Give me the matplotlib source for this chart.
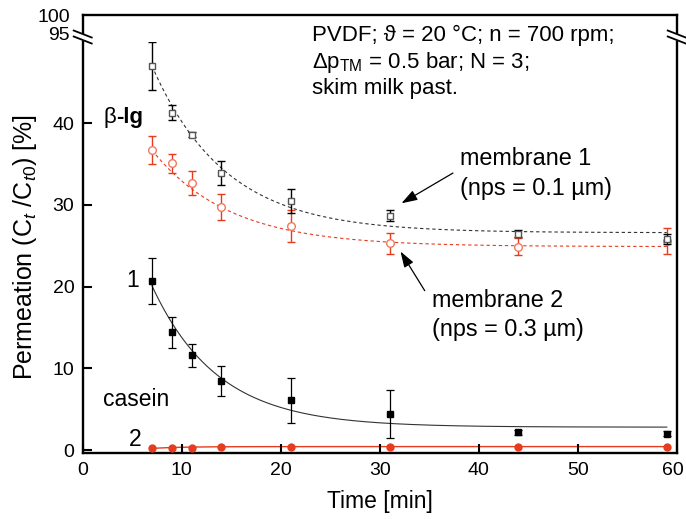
import numpy as np
import matplotlib
matplotlib.use("Agg")
import matplotlib.pyplot as plt
import matplotlib.transforms as mtransforms
from matplotlib.lines import Line2D

plt.rcParams['font.family'] = ['Liberation Sans', 'DejaVu Sans']
plt.rcParams['mathtext.fontset'] = 'custom'
plt.rcParams['mathtext.rm'] = 'Liberation Sans'
plt.rcParams['mathtext.it'] = 'Liberation Sans:italic'
plt.rcParams['mathtext.bf'] = 'Liberation Sans:bold'

# sampling times [min]
time = [7, 9, 11, 14, 21, 31, 44, 59]

# beta-lg permeation, membrane 1 and 2
blg_m1 = [47.0, 41.3, 38.6, 33.9, 30.5, 28.7, 26.5, 25.8]
blg_m1_err = [2.9, 0.95, 0.3, 1.5, 1.5, 0.7, 0.45, 0.6]
blg_m2 = [36.7, 35.1, 32.7, 29.7, 27.4, 25.3, 24.9, 25.6]
blg_m2_err = [1.75, 1.15, 1.5, 1.6, 2.0, 1.3, 1.0, 1.6]

# casein permeation, membrane 1 and 2
cas_m1 = [20.7, 14.4, 11.6, 8.45, 6.1, 4.4, 2.15, 2.0]
cas_m1_err = [2.8, 1.9, 1.4, 1.8, 2.75, 2.9, 0.3, 0.3]
cas_m2 = [0.2, 0.25, 0.3, 0.4, 0.4, 0.4, 0.4, 0.4]

# exponential fit parameters: y0, A, tau  ->  y0 + A*exp(-(t-7)/tau)
fit_blg_m1 = (26.6, 20.4, 7.4)
fit_blg_m2 = (24.9, 11.8, 7.8)
fit_cas_m1 = (2.8, 17.3, 6.6)
fit_cas_m2 = (0.42, -0.22, 3.0)

red = '#e63c1e'
W, H = 686, 519


def fit_curve(t, p):
    y0, a, tau = p
    return y0 + a * np.exp(-(t - 7) / tau)


fig = plt.figure(figsize=(W / 100, H / 100), dpi=100)
left, right = 82.7, 676.7
ax = fig.add_axes([left / W, (H - 453.3) / H, (right - left) / W, (453.3 - 41.5) / H])
ax_top = fig.add_axes([left / W, (H - 33) / H, (right - left) / W, 18 / H])
ax_top.patch.set_visible(False)

t_fit = np.linspace(7, 59, 300)

# fitted curves
ax.plot(t_fit, fit_curve(t_fit, fit_blg_m1), color='#333333', lw=0.8, ls=(0, (3, 2.5)), zorder=1)
ax.plot(t_fit, fit_curve(t_fit, fit_blg_m2), color=red, lw=0.8, ls=(0, (3, 2.5)), zorder=1)
ax.plot(t_fit, fit_curve(t_fit, fit_cas_m1), color='#333333', lw=0.8, zorder=1)
ax.plot(t_fit, fit_curve(t_fit, fit_cas_m2), color=red, lw=1.0, zorder=1)

# data with error bars
ax.errorbar(time, blg_m2, yerr=blg_m2_err, fmt='o', ms=5.5, mfc='white', mec='#f07860',
            ecolor=red, elinewidth=1.0, capsize=3.2, capthick=1.0, zorder=2)
ax.errorbar(time, blg_m1, yerr=blg_m1_err, fmt='s', ms=5, mfc='white', mec='#555555',
            ecolor='black', elinewidth=1.0, capsize=3.2, capthick=1.0, zorder=3)
ax.errorbar(time, cas_m1, yerr=cas_m1_err, fmt='s', ms=4.5, color='black',
            ecolor='black', elinewidth=0.9, capsize=3.2, capthick=0.9, zorder=3)
ax.plot(time, cas_m2, 'o', ms=5, color=red, zorder=3)

# axes styling
ax.set_xlim(0, 60)
ax.set_ylim(-0.4, 50)
ax.set_xticks([0, 10, 20, 30, 40, 50, 60])
ax.set_yticks([0, 10, 20, 30, 40])
ax.spines['top'].set_visible(False)
for s in ['left', 'right', 'bottom']:
    ax.spines[s].set_linewidth(1.7)
ax.tick_params(direction='in', length=6.5, width=1.5, labelsize=14, pad=6)
ax.set_xlabel('Time [min]', fontsize=16.5, labelpad=8)
ax.set_ylabel(r'Permeation (C$_t$ /C$_{t0}$) [%]', fontsize=18, labelpad=10)

# keep the last x tick label inside the picture
last = ax.get_xticklabels()[-1]
last.set_transform(last.get_transform() + mtransforms.ScaledTranslation(-4 / 100, 0, fig.dpi_scale_trans))

ax_top.set_xlim(0, 60)
ax_top.set_ylim(95, 100)
ax_top.set_xticks([])
ax_top.set_yticks([95, 100])
ax_top.spines['bottom'].set_visible(False)
for s in ['left', 'right', 'top']:
    ax_top.spines[s].set_linewidth(1.7)
ax_top.tick_params(axis='y', length=0, labelsize=14, pad=9)

# axis break marks
for xb in [left, right]:
    for yb in [34.0, 40.0]:
        fig.add_artist(Line2D([(xb - 9) / W, (xb + 9) / W],
                              [(H - yb + 3.5) / H, (H - yb - 3.5) / H],
                              color='black', lw=1.3, transform=fig.transFigure))

# annotations
fs = 16
ax.text(23.2, 50.8, 'PVDF; ϑ = 20 °C; n = 700 rpm;', fontsize=fs, va='center', zorder=5)
ax.text(23.2, 47.4, r'$\Delta$p$_{\mathrm{TM}}$ = 0.5 bar; N = 3;', fontsize=fs, va='center')
ax.text(23.2, 44.3, 'skim milk past.', fontsize=fs, va='center')

tb = ax.text(2.1, 40.7, 'β', fontsize=16, va='center')
ax.annotate('-lg', xy=(1, 0.5), xycoords=tb, va='center', ha='left',
            fontsize=16, fontweight='bold')
ax.text(5.0, 20.7, '1', fontsize=16.5, va='center', ha='center')
ax.text(2.1, 6.2, 'casein', fontsize=16.5, va='center')
ax.text(5.3, 1.35, '2', fontsize=16.5, va='center', ha='center')

fm = 16.8
ax.text(38.1, 35.7, 'membrane 1', fontsize=fm, va='center')
ax.text(38.1, 32.0, '(nps = 0.1 µm)', fontsize=fm, va='center')
ax.text(35.3, 18.3, 'membrane 2', fontsize=fm, va='center')
ax.text(35.3, 14.8, '(nps = 0.3 µm)', fontsize=fm, va='center')

arrow = dict(arrowstyle='-|>,head_length=0.6,head_width=0.2', color='black', lw=0.9,
             mutation_scale=16, shrinkA=0, shrinkB=0)
ax.annotate('', xy=(32.2, 30.2), xytext=(37.4, 33.9), arrowprops=arrow)
ax.annotate('', xy=(32.1, 24.3), xytext=(34.55, 19.5), arrowprops=arrow)

fig.savefig('out.png', dpi=100)
